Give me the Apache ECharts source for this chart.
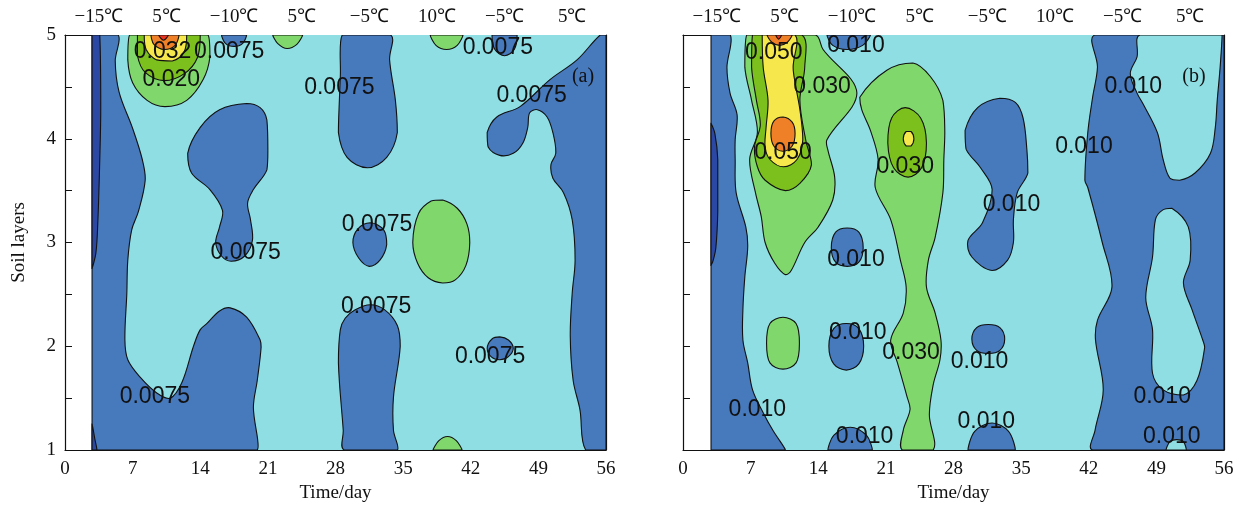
<!DOCTYPE html>
<html>
<head>
<meta charset="utf-8">
<script src="https://cdn.jsdelivr.net/npm/echarts@6/dist/echarts.min.js"></script>
<style>
  html, body { margin: 0; padding: 0; background: #fff; }
  #chart { width: 1249px; height: 515px; }
</style>
</head>
<body>
<div id="chart"></div>
<script>
// contour bands, lowest to highest
var levelColors = ['#2c48a5', '#4779bd', '#8edee4', '#80d86c', '#7cc01e', '#f6e84c', '#f08028', '#e6321e'];

var bottomTicks = [0, 7, 14, 21, 28, 35, 42, 49, 56];
var topLabels = ['\u221215\u2103', '5\u2103', '\u221210\u2103', '5\u2103', '\u22125\u2103', '10\u2103', '\u22125\u2103', '5\u2103'];
var layerTicks = [1, 2, 3, 4, 5];

// ---- panel (a) : contour regions as [day, layer] outlines ----
var aBase = [[2.8, 1], [56, 1], [56, 5], [2.8, 5]];
var aBlueLeft = [[2.8, 5], [5.5, 5], [5.2, 4.75], [5.6, 4.45], [7.0, 4.1], [8.0, 3.8], [8.3, 3.6], [7.6, 3.3], [6.9, 3.12],
  [6.5, 2.83], [6.4, 2.51], [6.2, 2.06], [6.5, 1.87], [7.8, 1.7], [9.5, 1.55], [10.9, 1.5], [12.1, 1.65], [13.3, 2.0],
  [14.0, 2.16], [14.7, 2.22], [16.0, 2.34], [17.1, 2.37], [18.8, 2.28], [20.2, 2.06], [20.3, 1.99], [19.9, 1.67],
  [19.5, 1.41], [19.9, 1.0], [2.8, 1]];
var aNavyTop = [[2.8, 5], [3.6, 5], [3.7, 4.3], [3.6, 3.8], [3.4, 3.2], [3.2, 2.9], [2.8, 2.75]];
var aNavyBottom = [[2.8, 1.25], [3.1, 1.1], [3.3, 1], [2.8, 1]];
var aBlueKeyhole = [[18.8, 4.34], [16.0, 4.28], [14.0, 4.11], [12.7, 3.86], [13.1, 3.67], [15.0, 3.51], [16.3, 3.31],
  [16.0, 3.15], [15.6, 3.0], [16.2, 2.87], [17.2, 2.82], [18.6, 2.87], [19.4, 3.02], [19.2, 3.22], [18.9, 3.38],
  [19.5, 3.51], [20.9, 3.7], [21.0, 3.89], [20.9, 4.18], [20.2, 4.3]];
var aBlueCap = [[16.2, 5], [16.6, 4.92], [17.5, 4.89], [18.4, 4.92], [18.8, 5]];
var aGreenCap1 = [[21.5, 5], [22.0, 4.92], [23.0, 4.87], [24.0, 4.91], [24.6, 5]];
var aHot1 = [[6.7, 5], [6.5, 4.76], [7.0, 4.54], [8.5, 4.37], [10.35, 4.31], [12.6, 4.37], [14.3, 4.57], [15.0, 4.79], [14.8, 5]];
var aHot2 = [[7.5, 5], [7.5, 4.8], [8.3, 4.64], [10.3, 4.56], [12.4, 4.63], [13.7, 4.78], [14.0, 5]];
var aHot3 = [[8.2, 5], [8.4, 4.86], [9.5, 4.76], [11.1, 4.75], [12.3, 4.83], [12.6, 5]];
var aHot4 = [[8.9, 5], [9.2, 4.91], [10.3, 4.86], [11.4, 4.9], [11.8, 5]];
var aHot5 = [[9.7, 5], [10.2, 4.95], [10.7, 5]];
var aBlueCol1 = [[28.7, 5], [28.5, 4.6], [28.4, 4.37], [28.3, 4.06], [29.2, 3.82], [31.3, 3.72], [33.3, 3.82],
  [34.4, 4.06], [34.2, 4.37], [33.6, 4.76], [33.7, 5]];
var aBlueCap2 = [[44.2, 5], [44.5, 4.86], [45.5, 4.8], [46.5, 4.86], [46.8, 5]];
var aGreenCap2 = [[37.8, 5], [38.4, 4.9], [39.5, 4.86], [40.6, 4.9], [41.2, 5]];
var aBlueRight = [[55.4, 5], [53.0, 4.76], [50.2, 4.57], [47.1, 4.31], [44.7, 4.21], [43.7, 4.06], [43.8, 3.92],
  [45.0, 3.84], [46.4, 3.86], [47.4, 3.96], [47.9, 4.11], [48.1, 4.25], [48.9, 4.28], [49.9, 4.21], [50.5, 4.06],
  [50.8, 3.86], [50.3, 3.75], [50.5, 3.62], [51.6, 3.48], [52.5, 3.22], [52.8, 2.83], [52.5, 2.51], [52.3, 2.1],
  [52.6, 1.67], [53.3, 1.39], [53.9, 1.0], [56, 1], [56, 5]];
var aBlueDot1 = [[29.8, 3.0], [30.3, 3.13], [31.6, 3.19], [33.0, 3.12], [33.3, 2.98], [32.6, 2.83], [31.5, 2.77], [30.4, 2.85]];
var aGreenOval = [[36.0, 3.0], [36.6, 3.28], [37.9, 3.4], [39.1, 3.41], [40.6, 3.33], [41.6, 3.18], [41.9, 3.0],
  [41.5, 2.78], [40.4, 2.64], [39.1, 2.61], [37.6, 2.66], [36.5, 2.8]];
var aBlueCol2 = [[28.9, 1.0], [28.8, 1.19], [28.3, 1.84], [28.5, 2.16], [29.0, 2.27], [30.0, 2.35], [31.6, 2.4],
  [33.1, 2.35], [34.4, 2.2], [34.7, 2.0], [34.0, 1.51], [34.0, 1.19], [34.4, 1.0]];
var aBlueDot2 = [[43.7, 1.98], [44.2, 2.07], [45.0, 2.09], [45.9, 2.06], [46.4, 1.98], [45.9, 1.9], [45.0, 1.87], [44.1, 1.9]];
var aGreenCap3 = [[38.1, 1], [38.7, 1.09], [39.6, 1.13], [40.5, 1.09], [41.1, 1]];

// [outline, band]
var regionsA = [
  [aBase, 2], [aBlueLeft, 1], [aNavyTop, 0], [aNavyBottom, 0], [aBlueKeyhole, 1], [aBlueCap, 1], [aGreenCap1, 3],
  [aHot1, 3], [aHot2, 4], [aHot3, 5], [aHot4, 6], [aHot5, 7], [aBlueCol1, 1], [aBlueCap2, 1], [aGreenCap2, 3],
  [aBlueRight, 1], [aBlueDot1, 1], [aGreenOval, 3], [aBlueCol2, 1], [aBlueDot2, 1], [aGreenCap3, 3]
];

var labelsA = [
  [10.1, 4.84, '0.032'], [17.0, 4.84, '0.0075'], [11.0, 4.57, '0.020'], [28.4, 4.49, '0.0075'], [44.8, 4.88, '0.0075'],
  [48.3, 4.42, '0.0075'], [18.7, 2.9, '0.0075'], [32.3, 3.17, '0.0075'], [32.2, 2.38, '0.0075'], [44.0, 1.9, '0.0075'],
  [9.3, 1.51, '0.0075']
];

// ---- panel (b) ----
var bBase = [[2.9, 1], [56, 1], [56, 5], [2.9, 5]];
var bBlueLeft = [[2.9, 5], [4.9, 5], [4.55, 4.69], [4.87, 4.44], [5.6, 4.23], [5.4, 3.99], [5.4, 3.8], [5.5, 3.48],
  [6.5, 3.15], [6.7, 2.96], [6.4, 2.67], [6.2, 2.35], [6.2, 2.06], [6.7, 1.84], [7.2, 1.58], [8.3, 1.36], [9.3, 1.19],
  [10.6, 1.0], [2.9, 1]];
var bNavy = [[2.9, 4.15], [3.3, 4.05], [3.6, 3.8], [3.6, 3.3], [3.4, 2.95], [3.1, 2.82], [2.9, 2.78]];
var bHot1 = [[6.6, 5], [6.4, 4.69], [7.1, 4.37], [7.7, 4.06], [6.9, 3.8], [7.5, 3.48], [8.1, 3.25], [8.5, 3.0], [9.5, 2.8],
  [10.6, 2.69], [11.2, 2.73], [12.6, 3.0], [14.0, 3.15], [15.5, 3.41], [15.7, 3.63], [15.0, 3.89], [14.9, 3.99],
  [18.0, 4.44], [14.5, 4.86], [13.7, 5]];
var bHot2 = [[7.2, 5], [7.1, 4.69], [7.6, 4.37], [8.0, 4.13], [7.4, 3.92], [7.7, 3.73], [8.5, 3.6], [10.6, 3.5],
  [12.1, 3.57], [13.3, 3.75], [12.7, 3.99], [12.1, 4.37], [12.6, 4.69], [12.3, 5]];
var bHot3 = [[8.2, 5], [8.3, 4.69], [8.8, 4.37], [8.6, 4.11], [8.5, 3.92], [9.0, 3.8], [10.4, 3.73], [11.8, 3.8],
  [12.4, 3.99], [12.1, 4.28], [11.6, 4.54], [11.4, 4.69], [11.6, 5]];
var bHot4 = [[8.7, 5], [9.2, 4.93], [10.0, 4.9], [10.8, 4.93], [11.3, 5]];
var bHot4b = [[9.1, 4.05], [9.4, 4.17], [10.35, 4.21], [11.3, 4.16], [11.6, 4.05], [11.3, 3.93], [10.35, 3.88], [9.4, 3.93]];
var bHot5 = [[9.6, 5], [9.9, 4.96], [10.2, 5]];
var bBlueCap = [[14.9, 5], [15.5, 4.9], [17.0, 4.86], [18.6, 4.9], [19.4, 5]];
var bCol1 = [[18.3, 4.4], [21.1, 4.66], [23.8, 4.73], [25.6, 4.6], [26.9, 4.37], [27.1, 4.06], [27.0, 3.8], [26.9, 3.48],
  [26.1, 3.05], [25.4, 2.83], [25.2, 2.57], [26.1, 2.32], [26.7, 2.06], [26.6, 1.87], [25.9, 1.63], [25.5, 1.34],
  [25.9, 1.0], [22.7, 1.0], [22.8, 1.19], [23.5, 1.39], [23.2, 1.51], [22.2, 1.84], [21.5, 2.06], [22.8, 2.32],
  [23.1, 2.57], [22.5, 2.83], [21.5, 3.22], [19.9, 3.53], [20.2, 3.8], [19.4, 4.08], [18.5, 4.28]];
var bCol2 = [[21.2, 3.96], [21.6, 4.2], [23.0, 4.3], [24.6, 4.2], [25.2, 3.96], [24.7, 3.72], [23.3, 3.63], [21.8, 3.72]];
var bCol3 = [[22.8, 4.0], [23.1, 4.07], [23.6, 4.07], [23.9, 4.0], [23.6, 3.93], [23.1, 3.93]];
var bGreenBlob = [[8.65, 2.03], [9.0, 2.22], [10.35, 2.28], [11.7, 2.22], [12.05, 2.03], [11.7, 1.84], [10.35, 1.78], [9.0, 1.84]];
var bBlueBlob1 = [[15.35, 2.95], [15.8, 3.1], [17.0, 3.14], [18.2, 3.1], [18.65, 2.95], [18.2, 2.81], [17.0, 2.77], [15.8, 2.81]];
var bBlueBlob2 = [[15.1, 2.0], [15.6, 2.17], [16.9, 2.22], [18.2, 2.17], [18.7, 2.0], [18.2, 1.83], [16.9, 1.77], [15.6, 1.83]];
var bBlueFoot1 = [[15.0, 1], [15.6, 1.14], [17.3, 1.22], [19.0, 1.14], [19.6, 1]];
var bBlueMid = [[32.8, 4.39], [34.4, 4.35], [35.2, 4.2], [35.6, 3.89], [35.7, 3.67], [34.6, 3.48], [34.2, 3.22],
  [34.2, 3.0], [33.6, 2.83], [32.0, 2.73], [29.9, 2.86], [29.5, 3.02], [31.0, 3.19], [32.0, 3.51], [30.8, 3.72],
  [29.3, 3.9], [29.2, 4.08], [30.5, 4.3]];
var bBlueDot = [[29.9, 2.07], [30.4, 2.18], [31.6, 2.21], [32.8, 2.18], [33.3, 2.07], [32.8, 1.96], [31.6, 1.93], [30.4, 1.96]];
var bBlueFoot2 = [[29.5, 1], [30.2, 1.18], [32.0, 1.26], [33.7, 1.18], [34.4, 1]];
var bBlueRight = [[42.65, 5], [56, 5], [56, 1], [42.4, 1], [42.65, 1.19], [43.5, 1.58], [42.7, 2.06], [42.9, 2.25],
  [44.4, 2.57], [43.4, 3.0], [41.9, 3.53], [41.6, 3.6], [41.9, 4.06], [42.4, 4.4], [42.9, 4.69]];
var bCyanTop = [[47.3, 5], [47.0, 4.79], [46.3, 4.63], [47.0, 4.44], [47.6, 4.34], [49.1, 4.06], [49.7, 3.8],
  [50.4, 3.62], [51.4, 3.6], [53.0, 3.67], [54.6, 3.86], [55.1, 4.11], [55.3, 4.37], [55.6, 4.69], [55.8, 5]];
var bCyanIn = [[50.6, 3.33], [52.3, 3.15], [52.5, 2.83], [51.8, 2.61], [52.7, 2.35], [53.8, 2.06], [54.0, 1.99],
  [53.2, 1.67], [51.8, 1.53], [49.7, 1.58], [48.6, 1.74], [48.6, 2.16], [47.9, 2.47], [48.6, 2.86], [48.9, 3.22], [49.6, 3.31]];
var bCyanFoot = [[50.0, 1], [50.4, 1.08], [51.1, 1.1], [51.8, 1.08], [52.1, 1]];

var regionsB = [
  [bBase, 2], [bBlueLeft, 1], [bNavy, 0], [bHot1, 3], [bHot2, 4], [bHot3, 5], [bHot4, 6], [bHot4b, 6], [bHot5, 7],
  [bBlueCap, 1], [bCol1, 3], [bCol2, 4], [bCol3, 5], [bGreenBlob, 3], [bBlueBlob1, 1], [bBlueBlob2, 1],
  [bBlueFoot1, 1], [bBlueMid, 1], [bBlueDot, 1], [bBlueFoot2, 1], [bBlueRight, 1], [bCyanTop, 2], [bCyanIn, 2],
  [bCyanFoot, 2]
];

var labelsB = [
  [9.4, 4.83, '0.050'], [17.9, 4.9, '0.010'], [14.4, 4.5, '0.030'], [10.35, 3.87, '0.050'], [23.0, 3.73, '0.030'],
  [17.9, 2.83, '0.010'], [18.1, 2.13, '0.010'], [23.6, 1.94, '0.030'], [7.7, 1.39, '0.010'], [18.8, 1.13, '0.010'],
  [30.7, 1.85, '0.010'], [31.4, 1.27, '0.010'], [34.0, 3.36, '0.010'], [46.6, 4.5, '0.010'], [41.5, 3.92, '0.010'],
  [49.6, 1.51, '0.010'], [50.6, 1.13, '0.010']
];

var serif = '"Liberation Serif", "Times New Roman", serif';
var sans = '"Liberation Sans", Arial, sans-serif';

function regionSeries(regions, axisIdx) {
  return {
    type: 'custom',
    xAxisIndex: axisIdx,
    yAxisIndex: axisIdx,
    silent: true,
    clip: true,
    encode: { x: 0, y: 1 },
    data: regions.map(function (r, i) { return [r[0][0][0], r[0][0][1], i]; }),
    renderItem: function (params, api) {
      var r = regions[api.value(2)];
      var pts = r[0].map(function (p) { return api.coord(p); });
      var isBase = api.value(2) === 0;
      return {
        type: 'polygon',
        shape: {
          points: pts,
          smooth: isBase ? 0 : 0.35,
          smoothConstraint: [[Infinity, Infinity], [-Infinity, -Infinity]]
        },
        style: {
          fill: levelColors[r[1]],
          stroke: isBase ? null : '#111',
          lineWidth: isBase ? 0 : 1.1
        }
      };
    }
  };
}

function labelSeries(labels, axisIdx) {
  return {
    type: 'custom',
    xAxisIndex: axisIdx,
    yAxisIndex: axisIdx,
    silent: true,
    z: 5,
    encode: { x: 0, y: 1 },
    data: labels,
    renderItem: function (params, api) {
      var p = api.coord([api.value(0), api.value(1)]);
      return {
        type: 'text',
        x: p[0],
        y: p[1],
        style: {
          text: labels[params.dataIndex][2],
          fill: '#111',
          fontSize: 23,
          fontFamily: sans,
          align: 'center',
          verticalAlign: 'middle'
        }
      };
    }
  };
}

function bottomAxis(gridIndex, withName) {
  return {
    type: 'value', gridIndex: gridIndex, position: 'bottom',
    min: 0, max: 56, interval: 3.5,
    name: withName ? 'Time/day' : '', nameLocation: 'middle', nameGap: 31,
    nameTextStyle: { fontFamily: serif, fontSize: 19, color: '#111' },
    axisLine: { onZero: false, lineStyle: { color: '#111', width: 1.2 } },
    axisTick: { inside: true, length: 7, lineStyle: { color: '#111' } },
    axisLabel: {
      margin: 10, fontFamily: serif, fontSize: 19, color: '#111',
      formatter: function (v) { return bottomTicks.indexOf(v) >= 0 ? String(v) : ''; }
    },
    splitLine: { show: false }
  };
}

function topAxis(gridIndex) {
  return {
    type: 'category', gridIndex: gridIndex, position: 'top',
    data: topLabels, boundaryGap: true,
    axisLine: { onZero: false, lineStyle: { color: '#111', width: 1.2 } },
    axisTick: { inside: true, length: 8, lineStyle: { color: '#111' } },
    axisLabel: { interval: 0, margin: 8, fontFamily: serif, fontSize: 19, color: '#111' },
    splitLine: { show: false }
  };
}

function leftAxis(gridIndex, withLabels) {
  return {
    type: 'value', gridIndex: gridIndex, position: 'left',
    min: 1, max: 5, interval: 0.5,
    name: withLabels ? 'Soil layers' : '', nameLocation: 'middle', nameGap: 36, nameRotate: 90,
    nameTextStyle: { fontFamily: serif, fontSize: 19, color: '#111' },
    axisLine: { onZero: false, lineStyle: { color: '#111', width: 1.2 } },
    axisTick: { inside: true, length: 7, lineStyle: { color: '#111' } },
    axisLabel: {
      show: withLabels, margin: 9, fontFamily: serif, fontSize: 19, color: '#111',
      formatter: function (v) { return layerTicks.indexOf(v) >= 0 ? String(v) : ''; }
    },
    splitLine: { show: false }
  };
}

function rightAxis(gridIndex) {
  return {
    type: 'value', gridIndex: gridIndex, position: 'right',
    min: 1, max: 5,
    axisLine: { show: true, onZero: false, lineStyle: { color: '#111', width: 1.2 } },
    axisTick: { show: false },
    axisLabel: { show: false },
    splitLine: { show: false }
  };
}

var chart = echarts.init(document.getElementById('chart'), null, { renderer: 'canvas' });

chart.setOption({
  backgroundColor: '#ffffff',
  animation: false,
  grid: [
    { left: 65, top: 35, width: 541, height: 415 },
    { left: 683, top: 35, width: 541, height: 415 }
  ],
  xAxis: [bottomAxis(0, true), bottomAxis(1, true), topAxis(0), topAxis(1)],
  yAxis: [leftAxis(0, true), leftAxis(1, false), rightAxis(0), rightAxis(1)],
  graphic: [
    { type: 'text', x: 583, y: 77, style: { text: '(a)', fontFamily: serif, fontSize: 20, fill: '#111', align: 'center', verticalAlign: 'middle' }, z: 100 },
    { type: 'text', x: 1194, y: 77, style: { text: '(b)', fontFamily: serif, fontSize: 20, fill: '#111', align: 'center', verticalAlign: 'middle' }, z: 100 }
  ],
  series: [
    regionSeries(regionsA, 0),
    regionSeries(regionsB, 1),
    labelSeries(labelsA, 0),
    labelSeries(labelsB, 1)
  ]
});
</script>
</body>
</html>
